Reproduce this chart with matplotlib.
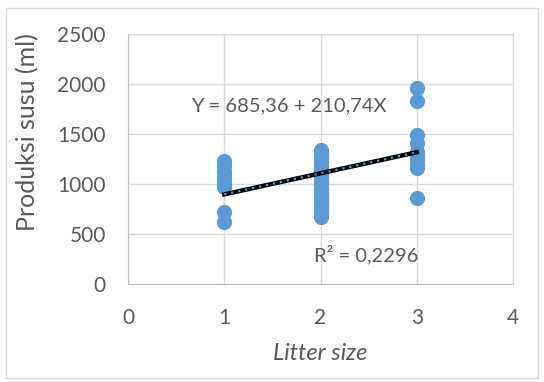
import matplotlib.pyplot as plt
from matplotlib.patches import Rectangle

plt.rcParams['font.family'] = ['Lato', 'DejaVu Sans']

litter_1 = [1230, 1180, 1120, 1080, 1040, 1000, 970, 720, 620]
litter_2 = [1340, 1310, 1280, 1250, 1220, 1180, 1150, 1120, 1100, 1070, 1040,
            1000, 980, 950, 920, 900, 870, 840, 800, 780, 750, 720, 700, 670]
litter_3 = [1957, 1833, 1490, 1407, 1320, 1280, 1240, 1190, 1157, 857]

intercept = 685.36
slope = 210.74

text_col = "#595959"
dot_col = "#5b9bd5"

fig = plt.figure(figsize=(5.44, 3.82), dpi=100)
ax = fig.add_axes([128 / 544, 1 - 284 / 382, 385 / 544, 250 / 382])

xs = [1] * len(litter_1) + [2] * len(litter_2) + [3] * len(litter_3)
ys = litter_1 + litter_2 + litter_3
ax.scatter(xs, ys, s=120, color=dot_col, zorder=3, linewidths=0)

lx = [1, 3]
ly = [intercept + slope * v for v in lx]
ax.plot(lx, ly, color="black", lw=3.2, zorder=4)
ax.plot(lx, ly, color=dot_col, lw=1.6, linestyle=(0, (1, 2.2)), zorder=5)

ax.set_xlim(0, 4)
ax.set_ylim(0, 2500)
ax.set_xticks([0, 1, 2, 3, 4])
ax.set_yticks(range(0, 2501, 500))
ax.grid(True, color="#d9d9d9", lw=1)
ax.set_axisbelow(True)
for side in ["top", "right"]:
    ax.spines[side].set_color("#d9d9d9")
for side in ["left", "bottom"]:
    ax.spines[side].set_color("#bfbfbf")
ax.tick_params(length=0, labelsize=15, colors=text_col)
ax.tick_params(axis="y", pad=16)
ax.tick_params(axis="x", pad=17)

ax.text(1.67, 1780, "Y = 685,36 + 210,74X", fontsize=14.5, color=text_col,
        ha="center", va="center")
ax.text(2.47, 290, "R² = 0,2296", fontsize=14.5, color=text_col,
        ha="center", va="center")

fig.text(28 / 544, 1 - 132 / 382, "Produksi susu (ml)", rotation=90,
         fontsize=18, color=text_col, ha="center", va="center")
fig.text(320 / 544, 1 - 353 / 382, "Litter size", style="italic",
         fontsize=17, color=text_col, ha="center", va="center")

fig.patches.append(Rectangle((6 / 544, 4 / 382), 532 / 544, 370 / 382,
                             transform=fig.transFigure, fill=False,
                             edgecolor="#d9d9d9", lw=1))

fig.savefig("out.png", dpi=100)
